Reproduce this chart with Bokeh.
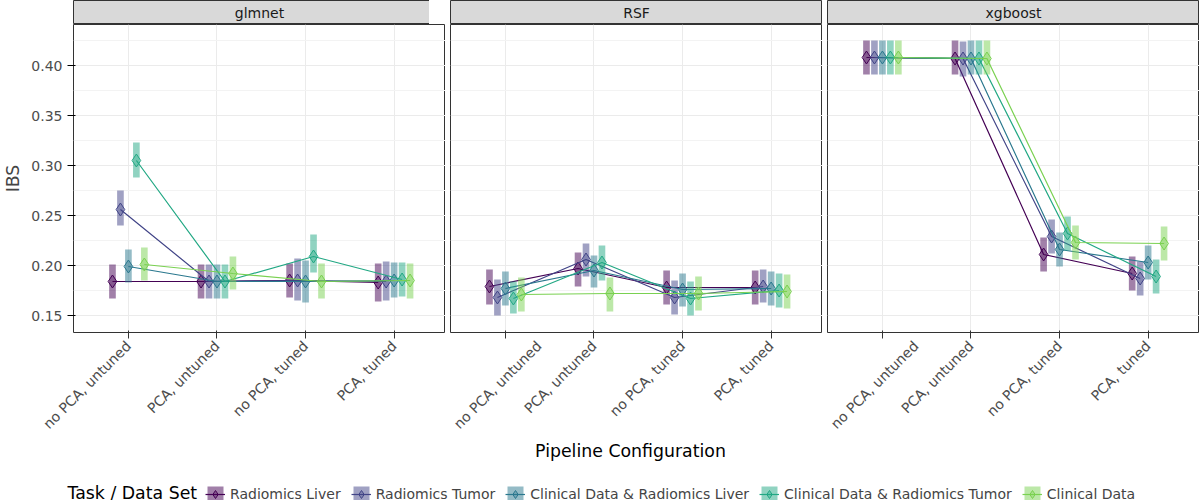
import numpy as np
from bokeh.plotting import figure
from bokeh.layouts import column, row
from bokeh.models import Legend, LegendItem, FixedTicker, Range1d, PrintfTickFormatter
from bokeh.embed import file_html
from bokeh.resources import INLINE

learners = ["glmnet", "RSF", "xgboost"]
configs = ["no PCA, untuned", "PCA, untuned", "no PCA, tuned", "PCA, tuned"]
tasks = ["Radiomics Liver", "Radiomics Tumor", "Clinical Data & Radiomics Liver",
         "Clinical Data & Radiomics Tumor", "Clinical Data"]
colors = ["#440154", "#414487", "#2A788E", "#22A884", "#7AD151"]

# mean[learner][task] over configs
mean = {
    "glmnet": [[.184, .184, .185, .183], [.256, .184, .185, .184], [.199, .184, .184, .185],
               [.305, .184, .209, .186], [.201, .192, .184, .185]],
    "RSF": [[.179, .197, .178, .178], [.168, .206, .168, .179], [.177, .195, .176, .177],
            [.167, .203, .167, .175], [.171, .172, .172, .174]],
    "xgboost": [[.408, .407, .211, .192], [.408, .407, .229, .187], [.408, .407, .216, .203],
                [.408, .407, .232, .189], [.408, .407, .223, .222]],
}
lower = {
    "glmnet": [[.167, .167, .168, .164], [.240, .167, .165, .165], [.183, .167, .163, .168],
               [.288, .167, .193, .169], [.185, .176, .167, .167]],
    "RSF": [[.161, .179, .161, .161], [.150, .189, .151, .163], [.160, .178, .159, .160],
            [.152, .185, .150, .158], [.154, .154, .155, .157]],
    "xgboost": [[.391, .391, .194, .175], [.391, .389, .212, .170], [.391, .391, .199, .186],
                [.391, .391, .215, .172], [.391, .391, .206, .205]],
}
upper = {
    "glmnet": [[.201, .201, .202, .202], [.275, .201, .207, .204], [.216, .201, .205, .203],
               [.323, .201, .231, .203], [.218, .209, .202, .202]],
    "RSF": [[.196, .213, .195, .195], [.186, .222, .185, .196], [.194, .210, .192, .194],
            [.184, .220, .184, .192], [.188, .188, .189, .191]],
    "xgboost": [[.425, .425, .228, .209], [.425, .424, .246, .204], [.425, .425, .233, .220],
                [.425, .425, .249, .206], [.425, .425, .240, .239]],
}

offsets = [-0.18, -0.09, 0.0, 0.09, 0.18]
xpos = np.arange(1, 5)
FONT = "DejaVu Sans"

panels = []
for i, lr in enumerate(learners):
    lb = 57 if i == 0 else 0
    s = figure(output_backend="svg", toolbar_location=None, frame_width=372, frame_height=24,
               x_range=Range1d(0, 1), y_range=Range1d(0, 1), min_border_left=lb,
               min_border_right=0, min_border_top=0, min_border_bottom=0)
    s.axis.visible = False
    s.grid.visible = False
    s.background_fill_color = "#d9d9d9"
    s.outline_line_color = "#333333"
    s.text(x=[0.5], y=[0.5], text=[lr], text_align="center", text_baseline="middle",
           text_font_size="10.5pt", text_color="#1a1a1a", text_font={"value": FONT})

    f = figure(output_backend="svg", toolbar_location=None, frame_width=372, frame_height=308,
               x_range=Range1d(0.38, 4.58), y_range=Range1d(0.133, 0.441),
               min_border_left=lb, min_border_right=0, min_border_top=0, min_border_bottom=0)
    f.outline_line_color = "#333333"
    for t in range(5):
        xs = xpos + offsets[t]
        f.vbar(x=xs, bottom=lower[lr][t], top=upper[lr][t], width=0.075,
               fill_color=colors[t], fill_alpha=0.5, line_color=None)
        f.line(xs, mean[lr][t], line_color=colors[t], line_width=1.2)
        f.scatter(xs, mean[lr][t], marker="diamond", size=13, fill_color=colors[t],
                  fill_alpha=0.3, line_color=colors[t], line_width=1)
    f.xaxis.ticker = FixedTicker(ticks=[1, 2, 3, 4])
    f.xaxis.major_label_overrides = {k + 1: c for k, c in enumerate(configs)}
    f.xaxis.major_label_orientation = np.pi / 4
    f.xaxis.major_label_text_font_size = "10.5pt"
    f.xaxis.major_label_text_color = "#4d4d4d"
    f.xaxis.major_label_text_font = FONT
    f.xaxis.axis_line_color = None
    f.xaxis.major_tick_line_color = "#333333"
    f.xaxis.minor_tick_line_color = None
    f.xgrid.grid_line_color = "#ebebeb"
    f.ygrid.grid_line_color = "#ebebeb"
    f.ygrid.minor_grid_line_color = "#f3f3f3"
    f.yaxis.ticker = FixedTicker(ticks=[0.15, 0.2, 0.25, 0.3, 0.35, 0.4],
                                 minor_ticks=[0.175, 0.225, 0.275, 0.325, 0.375, 0.425])
    if i == 0:
        f.yaxis.axis_label = "IBS"
        f.yaxis.axis_label_text_font = FONT
        f.yaxis.axis_label_text_font_style = "normal"
        f.yaxis.axis_label_text_font_size = "13pt"
        f.yaxis.major_label_text_font_size = "10.5pt"
        f.yaxis.major_label_text_color = "#4d4d4d"
        f.yaxis.major_label_text_font = FONT
        f.yaxis.axis_line_color = None
        f.yaxis.minor_tick_line_color = None
        f.yaxis.formatter = PrintfTickFormatter(format="%.2f")
    else:
        f.yaxis.visible = False
    panels.append(column(s, f, spacing=0))

bottom = figure(output_backend="svg", toolbar_location=None, width=1184, height=66,
                x_range=Range1d(0, 1184), y_range=Range1d(0, 66), min_border=0)
bottom.axis.visible = False
bottom.grid.visible = False
bottom.outline_line_color = None
bottom.text(x=[630], y=[56], text=["Pipeline Configuration"], text_align="center",
            text_baseline="middle", text_font_size="13pt", text_font={"value": FONT})
bottom.text(x=[67], y=[14], text=["Task / Data Set"], text_align="left",
            text_baseline="middle", text_font_size="13pt", text_font={"value": FONT})
items = []
for t in range(5):
    bar = bottom.vbar(x=[-100], bottom=[0], top=[1], width=1, fill_color=colors[t],
                      fill_alpha=0.5, line_color=None)
    ln = bottom.line([-100, -90], [0, 0], line_color=colors[t], line_width=1.2)
    dm = bottom.scatter([-100], [0], marker="diamond", size=13, fill_color=colors[t],
                        fill_alpha=0.3, line_color=colors[t])
    items.append(LegendItem(label=tasks[t], renderers=[bar, ln, dm]))
leg = Legend(items=items, orientation="horizontal", location=(205, 2),
             label_text_font_size="10.5pt", label_text_font=FONT, border_line_color=None,
             background_fill_alpha=0, spacing=10, glyph_width=20, padding=2)
bottom.add_layout(leg, "center")

p = column(row(*panels, spacing=5), bottom, spacing=0)
open("out.html", "w").write(file_html(p, INLINE))
